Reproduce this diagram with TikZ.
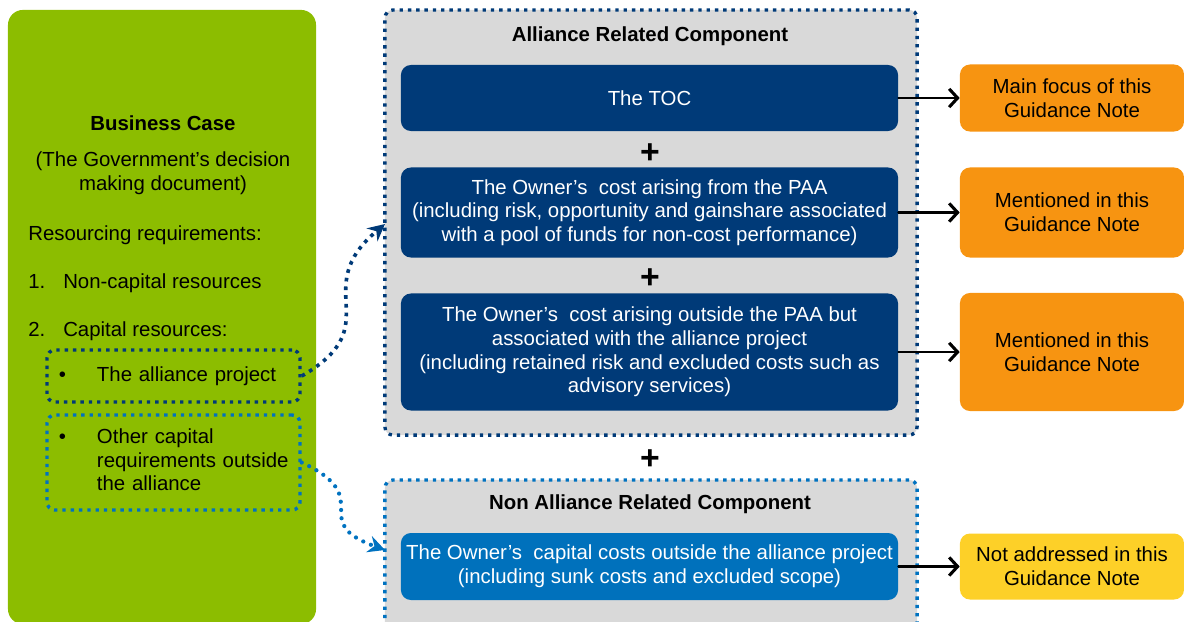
\documentclass[tikz,border=0pt]{standalone}
\usepackage{fontspec}
\setmainfont{Liberation Sans}
\usetikzlibrary{arrows.meta}
\definecolor{bcgreen}{rgb}{0.549,0.741,0.}
\definecolor{navyblue}{rgb}{0.,0.227,0.471}
\definecolor{midblue}{rgb}{0.,0.443,0.737}
\definecolor{dotblue}{rgb}{0.,0.447,0.753}
\definecolor{panelgrey}{rgb}{0.851,0.851,0.851}
\definecolor{notegold}{rgb}{0.969,0.58,0.067}
\definecolor{noteyellow}{rgb}{0.992,0.816,0.157}
\begin{document}
\begin{tikzpicture}[line cap=round,line join=round,x=0.025cm,y=0.025cm,
  every node/.style={font=\fontsize{14.5}{16.8}\selectfont,inner sep=0pt},
  casebox/.style={fill=bcgreen,rounded corners=0.375cm,minimum width=7.7cm,minimum height=15.35cm},
  casehead/.style={font=\fontsize{14.5}{16.8}\selectfont\bfseries},
  casetext/.style={align=center},
  itemtext/.style={anchor=west},
  pickbox/.style={line width=2.4pt,line cap=butt,dash pattern=on 2.4pt off 3.5pt,rounded corners=0.2cm,minimum width=6.325cm,text width=5.725cm,inner xsep=0.3cm,align=left},
  panel/.style={fill=panelgrey,line width=2.4pt,line cap=butt,dash pattern=on 2.4pt off 3.5pt,rounded corners=0.2cm,minimum width=13.3cm},
  panelhead/.style={font=\fontsize{14.5}{16.8}\selectfont\bfseries},
  costbox/.style={fill=navyblue,text=white,rounded corners=0.25cm,minimum width=12.425cm,align=center},
  notebox/.style={fill=notegold,rounded corners=0.25cm,minimum width=5.6cm,align=center},
  plus/.style={font=\fontsize{24}{24}\selectfont\bfseries},
  notearrow/.style={line width=1.5pt,-{Straight Barb[length=6pt,width=13pt,line width=2.2pt]}},
  linkdark/.style={draw=navyblue,line width=2.6pt,line cap=butt,dash pattern=on 2.6pt off 3.6pt,-{Stealth[length=12pt,width=12pt,inset=4pt]}},
  linklight/.style={draw=dotblue,line width=3pt,dash pattern=on 0pt off 5.9pt,-{Stealth[length=12pt,width=12pt,inset=4pt]}}]
\useasboundingbox (0,0) rectangle (1184,-621);
\clip (0,0) rectangle (1184,-621);
% business case column
\node[casebox] (bizcase) at (162,-317) {};
\node[casehead] (casetitle) at (163,-123) {Business Case};
\node[casetext] (casenote) at (163,-173) {(The Government’s decision\\making document)};
\node[itemtext] (resreq) at (28,-235) {Resourcing requirements:};
\node[itemtext] (noncap) at (28,-283) {\makebox[0.875cm][l]{1.}Non-capital resources};
\node[itemtext] (capres) at (28,-331) {\makebox[0.875cm][l]{2.}Capital resources:};
\node[pickbox,draw=navyblue,minimum height=1.3cm] (allproj) at (173.5,-376) {\makebox[0.95cm][l]{\textbullet}The alliance project};
\node[pickbox,draw=dotblue,minimum height=2.375cm] (othercap) at (173.5,-462.5) {\begin{tabular}{@{}p{0.95cm}@{}l@{}}\textbullet & Other capital\\ & requirements outside\\ & the alliance\end{tabular}};
% component panels
\node[panel,draw=navyblue,minimum height=10.625cm] (alliance) at (651,-222.5) {};
\node[panelhead] (alltitle) at (650,-36) {Alliance Related Component};
\node[panel,draw=dotblue,minimum height=4.5cm] (nonalliance) at (651,-570) {};
\node[panelhead] (nontitle) at (650,-504) {Non Alliance Related Component};
\node[costbox,minimum height=1.65cm] (toc) at (649.5,-98) {The TOC};
\node[plus] (plusa) at (650,-154) {+};
\node[costbox,minimum height=2.25cm] (paa) at (649.5,-212.5) {The Owner’s~ cost arising from the PAA\\(including risk, opportunity and gainshare associated\\with a pool of funds for non-cost performance)};
\node[plus] (plusb) at (650,-279) {+};
\node[costbox,minimum height=2.925cm] (outside) at (649.5,-352) {The Owner’s~ cost arising outside the PAA but\\associated with the alliance project\\(including retained risk and excluded costs such as\\advisory services)};
\node[plus] (plusc) at (650,-460) {+};
\node[costbox,fill=midblue,minimum height=1.675cm] (capcost) at (649.5,-566.5) {The Owner’s~ capital costs outside the alliance project\\(including sunk costs and excluded scope)};
% guidance notes
\node[notebox,minimum height=1.675cm] (focus) at (1072,-98) {Main focus of this\\Guidance Note};
\node[notebox,minimum height=2.25cm] (mentiona) at (1072,-212.5) {Mentioned in this\\Guidance Note};
\node[notebox,minimum height=2.95cm] (mentionb) at (1072,-352) {Mentioned in this\\Guidance Note};
\node[notebox,fill=noteyellow,minimum height=1.65cm] (notaddr) at (1072,-566.5) {Not addressed in this\\Guidance Note};
\draw[notearrow] (toc) -- (focus);
\draw[notearrow] (paa) -- (mentiona);
\draw[notearrow] (outside) -- (mentionb);
\draw[notearrow] (capcost) -- (notaddr);
% links from the business case
\coordinate (allin) at (385,-224);
\coordinate (nonin) at (385,-550);
\draw[linkdark] (allproj.east) to[out=30,in=-140,looseness=1.5] (allin);
\draw[linklight] (othercap.east) to[out=-25,in=160,looseness=1.8] (nonin);
\end{tikzpicture}
\end{document}
